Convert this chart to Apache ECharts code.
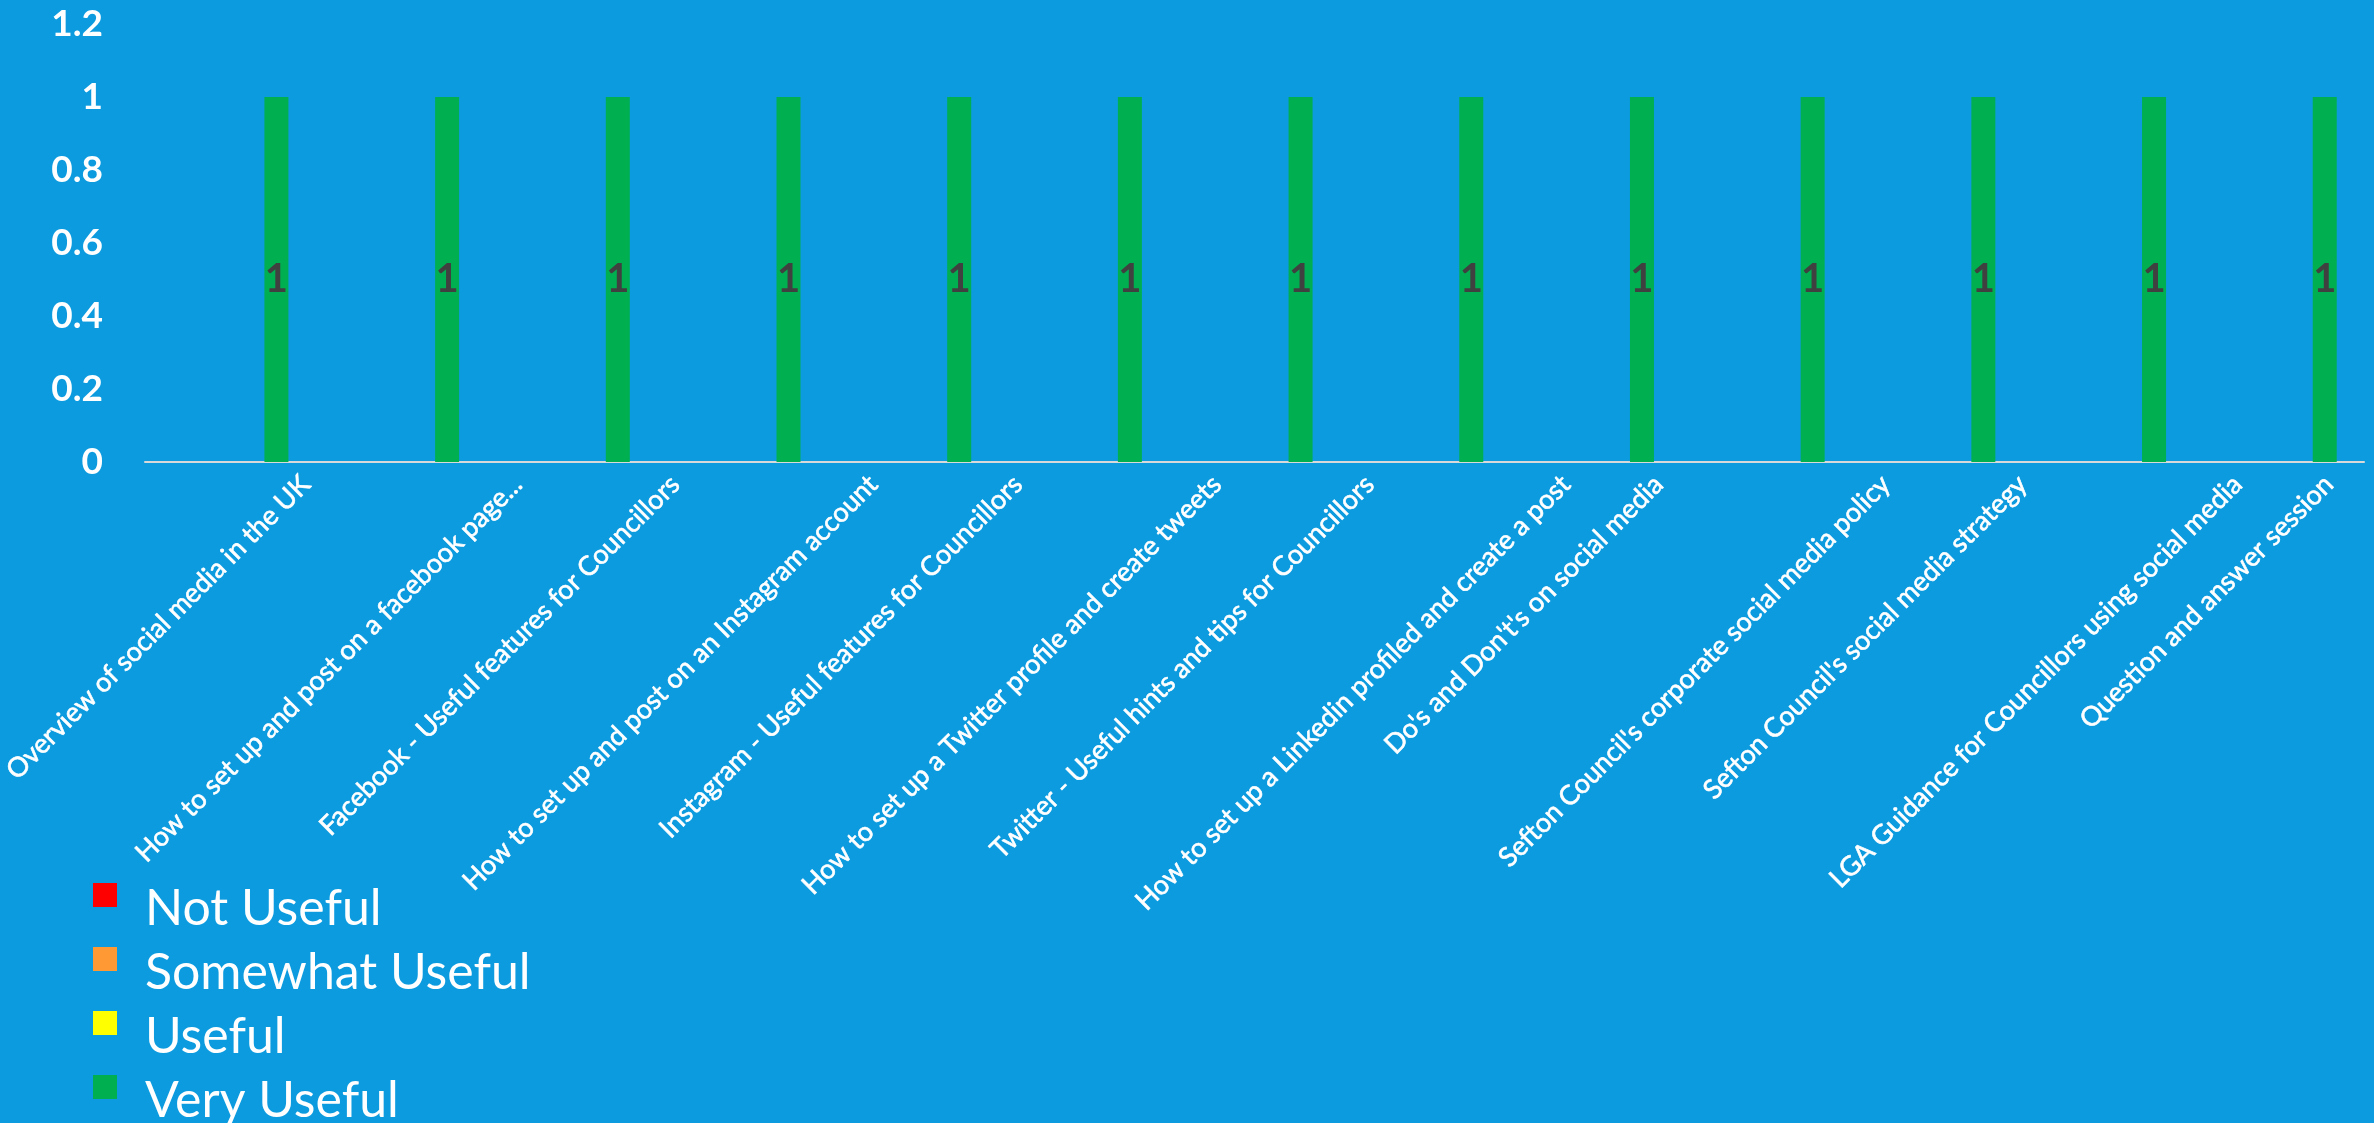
<!DOCTYPE html>
<html>
<head>
<meta charset="utf-8">
<script src="https://cdn.jsdelivr.net/npm/echarts@6/dist/echarts.min.js"></script>
<style>
html,body{margin:0;padding:0;background:#0c9bdf;}
#chart{width:2374px;height:1123px;}
</style>
</head>
<body>
<div id="chart"></div>
<script>
const categories = [
  "Overview of social media in the UK",
  "How to set up and post on a facebook page...",
  "Facebook - Useful features for Councillors",
  "How to set up and post on an Instagram account",
  "Instagram - Useful features for Councillors",
  "How to set up a Twitter profile and create tweets",
  "Twitter - Useful hints and tips for Councillors",
  "How to set up a Linkedin profiled and create a post",
  "Do's and Don't's on social media",
  "Sefton Council's corporate social media policy",
  "Sefton Council's social media strategy",
  "LGA Guidance for Councillors using social media",
  "Question and answer session"
];
const seriesNames = ["Not Useful", "Somewhat Useful", "Useful", "Very Useful"];
const notUseful      = [0,0,0,0,0,0,0,0,0,0,0,0,0];
const somewhatUseful = [0,0,0,0,0,0,0,0,0,0,0,0,0];
const useful         = [0,0,0,0,0,0,0,0,0,0,0,0,0];
const veryUseful     = [1,1,1,1,1,1,1,1,1,1,1,1,1];
const yMin = 0, yMax = 1.2, yStep = 0.2;

const seriesData = [notUseful, somewhatUseful, useful, veryUseful];
const colors = ["#ff0000", "#ff9933", "#ffff00", "#00b050"];

// Excel-like placement of 45° labels: centre each rotated label's
// horizontal extent a fixed distance left of its category centre.
const LABEL_FONT = 27, LABEL_LH = 32, LABEL_FAMILY = "Lato";
const measureCtx = document.createElement("canvas").getContext("2d");
measureCtx.font = LABEL_FONT + "px " + LABEL_FAMILY;
const xData = categories.map(function (name) {
  const w = measureCtx.measureText(name).width;
  const shift = w * Math.SQRT1_2 / 2 - 72;     // horizontal shift wanted
  const t = shift / Math.SQRT2;                // along-text and across-text parts
  return {
    value: name,
    textStyle: {
      align: "right",
      verticalAlign: "top",
      padding: [t - LABEL_LH / 2, -t, 0, 0]
    }
  };
});

const chart = echarts.init(document.getElementById("chart"), null, {renderer: "canvas"});
chart.setOption({
  backgroundColor: "#0c9bdf",
  animation: false,
  textStyle: {fontFamily: "Lato"},
  grid: {left: 145, right: 10, top: 24, bottom: 661, containLabel: false, outerBoundsMode: "none"},
  legend: {
    orient: "vertical",
    left: 93,
    top: 883,
    height: 300,
    padding: 0,
    itemWidth: 24,
    itemHeight: 24,
    itemGap: 13,
    icon: "rect",
    data: seriesNames,
    textStyle: {
      color: "#ffffff",
      fontSize: 50,
      fontFamily: "Lato",
      lineHeight: 24,
      padding: [14, 0, -14, 23],
      rich: {x: {}}
    }
  },
  xAxis: {
    type: "category",
    data: xData,
    axisTick: {show: false},
    axisLine: {show: true, lineStyle: {color: "#d9d9d9", width: 2}},
    splitLine: {show: false},
    axisLabel: {
      interval: 0,
      rotate: 45,
      margin: 18,
      hideOverlap: false,
      color: "#ffffff",
      fontSize: LABEL_FONT,
      lineHeight: LABEL_LH,
      fontFamily: LABEL_FAMILY,
      textBorderColor: "#ffffff",
      textBorderWidth: 0.6
    }
  },
  yAxis: {
    type: "value",
    min: yMin,
    max: yMax,
    interval: yStep,
    axisLine: {show: false},
    axisTick: {show: false},
    splitLine: {show: false},
    axisLabel: {
      color: "#ffffff",
      fontSize: 37,
      fontWeight: "bold",
      fontFamily: "Lato",
      margin: 42,
      formatter: function (v) { return String(Math.round(v * 10) / 10); }
    }
  },
  series: seriesNames.map(function (n, i) {
    return {
      name: n,
      type: "bar",
      data: seriesData[i],
      barWidth: 24,
      barGap: "28%",
      itemStyle: {color: colors[i]},
      label: i === 3 ? {
        show: true,
        position: "inside",
        color: "#404040",
        fontSize: 40,
        fontWeight: "bold",
        fontFamily: "Lato"
      } : {show: false}
    };
  })
});
</script>
</body>
</html>
